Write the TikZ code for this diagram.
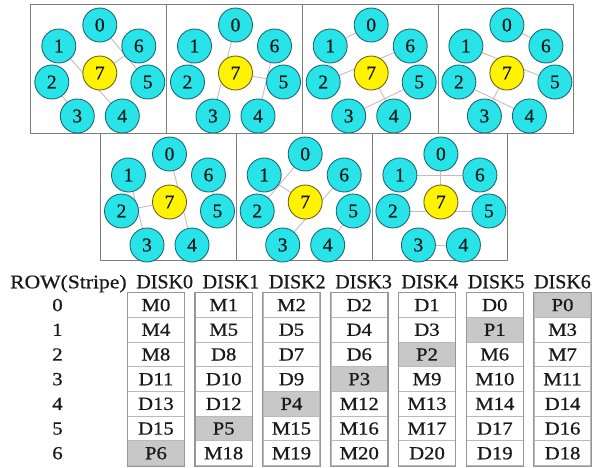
\documentclass[tikz,border=0pt]{standalone}
\usepackage{fontspec}
\setmainfont{Liberation Serif}[FakeBold=0.7]
\newfontfamily\cellfont[FakeStretch=1.12,FakeBold=0.7]{Liberation Serif}
\usetikzlibrary{backgrounds}
\definecolor{cy}{RGB}{40,228,232}
\definecolor{cyline}{RGB}{30,105,115}
\definecolor{yel}{RGB}{255,243,0}
\definecolor{yelline}{RGB}{110,100,25}
\definecolor{edgec}{RGB}{200,186,192}
\definecolor{framec}{RGB}{125,125,125}
\definecolor{pg}{RGB}{200,200,200}
\definecolor{cellline}{RGB}{185,185,185}
\definecolor{colline}{RGB}{150,150,150}
\definecolor{txt}{RGB}{25,25,25}
\tikzset{
  disk/.style={circle, draw=cyline, fill=cy, line width=0.9pt, minimum size=34pt, inner sep=0pt, text=txt, font=\fontsize{19.5}{22}\selectfont},
  hub/.style={disk, draw=yelline, fill=yel},
  edge/.style={draw=edgec, line width=0.9pt},
  panelframe/.style={draw=framec, line width=1pt},
  cell/.style={draw=cellline, line width=0.9pt, minimum width=56.5pt, minimum height=24.7pt, inner sep=0pt, text=txt, font=\cellfont\fontsize{18.5}{20}\selectfont},
  colbox/.style={draw=colline, line width=1.1pt},
  hdr/.style={anchor=base, inner sep=0pt, text=txt, font=\fontsize{20}{24}\selectfont},
  rowlab/.style={inner sep=0pt, text=txt, font=\cellfont\fontsize{18.5}{20}\selectfont}
}
\begin{document}
\begin{tikzpicture}[x=1pt,y=-1pt]
\useasboundingbox (0,0) rectangle (605,467);
% panels
\foreach \p/\cx/\top/\h in {0/99.8/4/129, 1/235.5/4/129, 2/371.2/4/129, 3/506.9/4/129, 4/169.5/133/127.7, 5/305.2/133/127.7, 6/440.9/133/127.7}{
  \draw[panelframe] (\cx-68.85,\top) rectangle (\cx+66.85,\top+\h);
  \foreach \k/\dx/\dy in {0/0/21, 1/-41/42, 2/-48/78, 3/-22.5/112, 4/22.5/112, 5/48/78, 6/39/42}{
    \node[disk] (p\p-\k) at (\cx+\dx,\top+\dy) {\k};
  }
  \node[hub] (p\p-7) at (\cx,\top+69) {7};
  \pgfmathtruncatemacro\ci{6-\p}
  \begin{pgfonlayer}{background}
    \draw[edge] (p\p-\ci) -- (p\p-7);
    \foreach \d in {1,2,3}{
      \pgfmathtruncatemacro\ea{mod(\ci+\d,7)}
      \pgfmathtruncatemacro\eb{mod(\ci-\d+7,7)}
      \draw[edge] (p\p-\ea) -- (p\p-\eb);
    }
  \end{pgfonlayer}
}
% table headers
\node[hdr, anchor=base west, font=\cellfont\fontsize{19.3}{22}\selectfont] (rowh) at (10,288.3) {ROW(Stripe)};
\foreach \c in {0,...,6}{
  \node[hdr] (h\c) at ({164.7+\c*66.3},288.3) {DISK\c};
}
\foreach \r in {0,...,6}{
  \node[rowlab] (r\r) at (57.5,{305.05+\r*24.7}) {\r};
}
% table columns
\foreach \c/\l in {0/{M0,M4,M8,D11,D13,D15,P6}, 1/{M1,M5,D8,D10,D12,P5,M18}, 2/{M2,D5,D7,D9,P4,M15,M19}, 3/{D2,D4,D6,P3,M12,M16,M20}, 4/{D1,D3,P2,M9,M13,M17,D20}, 5/{D0,P1,M6,M10,M14,D17,D19}, 6/{P0,M3,M7,M11,D14,D16,D18}}{
  \foreach \t [count=\r from 0] in \l {
    \ifnum\numexpr\r+\c\relax=6 \def\fc{pg}\else\def\fc{white}\fi
    \node[cell, fill=\fc] (c\c-\r) at ({155.95+\c*67.77},{305.05+\r*24.7}) {\t};
  }
  \draw[colbox] (c\c-0.north west) rectangle (c\c-6.south east);
}
\end{tikzpicture}
\end{document}
